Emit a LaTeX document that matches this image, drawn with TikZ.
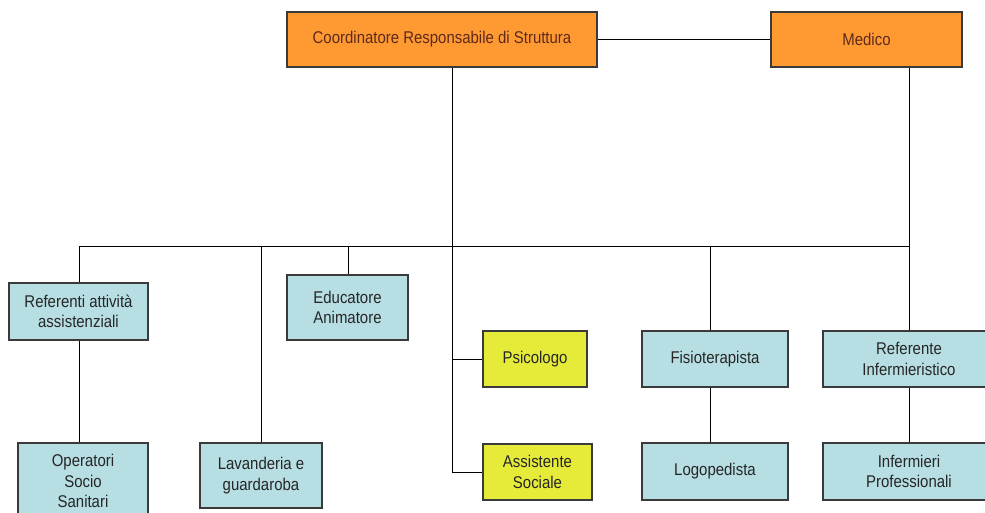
\documentclass[tikz,border=0pt]{standalone}
\usepackage{fontspec}
\setmainfont{Liberation Sans}[FakeStretch=0.88]
\definecolor{orangefill}{HTML}{FF9A33}
\definecolor{orangetext}{HTML}{5E2A1C}
\definecolor{bluefill}{HTML}{B7DEE3}
\definecolor{yellowfill}{HTML}{E6EB3A}
\definecolor{boxline}{HTML}{3A3A3A}
\begin{document}
\begin{tikzpicture}[x=1pt,y=-1pt,
  base/.style={draw=boxline,line width=1.1pt,align=center,inner sep=2pt,
    font=\fontsize{17}{20.5}\selectfont},
  topbox/.style={base,fill=orangefill,text=orangetext,minimum height=55pt},
  bluebox/.style={base,fill=bluefill,text=black!85},
  yellowbox/.style={base,fill=yellowfill,text=black!85},
  conn/.style={draw=black,line width=1pt}]
\useasboundingbox[fill=white] (0,0) rectangle (985,513);
% top level
\node[topbox,minimum width=310pt] (coord) at (442,39.5) {Coordinatore Responsabile di Struttura};
\node[topbox,minimum width=191pt] (med) at (866.5,39.5) {Medico};
% second level
\node[bluebox,minimum width=139pt,minimum height=57pt] (refa) at (78.5,311.5) {Referenti attività\\assistenziali};
\node[bluebox,minimum width=121pt,minimum height=65pt] (edu) at (347.5,307.5) {Educatore\\Animatore};
\node[yellowbox,minimum width=104pt,minimum height=56pt] (psi) at (535,359) {Psicologo};
\node[yellowbox,minimum width=109pt,minimum height=56pt] (ass) at (537.5,472) {Assistente\\Sociale};
\node[bluebox,minimum width=146pt,minimum height=56pt] (fis) at (715,359) {Fisioterapista};
\node[bluebox,minimum width=172pt,minimum height=56pt] (refi) at (909,359) {Referente\\Infermieristico};
% third level
\node[bluebox,minimum width=130pt,minimum height=76pt] (ope) at (83,481) {Operatori\\Socio\\Sanitari};
\node[bluebox,minimum width=122pt,minimum height=65pt] (lav) at (261,475.5) {Lavanderia e\\guardaroba};
\node[bluebox,minimum width=146pt,minimum height=57pt] (logo) at (715,471.5) {Logopedista};
\node[bluebox,minimum width=172pt,minimum height=57pt] (inf) at (909,471.5) {Infermieri\\Professionali};
% junctions
\coordinate (cv) at (452,0);
\coordinate (mv) at (909,0);
\coordinate (bl) at (79,246);
\coordinate (br) at (909,246);
\coordinate (jl) at (261,246);
\coordinate (je) at (348,246);
\coordinate (jf) at (710,246);
\coordinate (jp) at (452,359);
\coordinate (ja) at (452,472);
% connectors
\draw[conn] (coord.east) -- (med.west);
\draw[conn] (cv |- coord.south) -- (ja);
\draw[conn] (jp) -- (psi.west);
\draw[conn] (ja) -- (ass.west);
\draw[conn] (mv |- med.south) -- (refi.north);
\draw[conn] (bl) -- (br);
\draw[conn] (bl) -- (bl |- refa.north);
\draw[conn] (jl) -- (jl |- lav.north);
\draw[conn] (je) -- (je |- edu.north);
\draw[conn] (jf) -- (jf |- fis.north);
\draw[conn] (bl |- refa.south) -- (bl |- ope.north);
\draw[conn] (jf |- fis.south) -- (jf |- logo.north);
\draw[conn] (refi.south) -- (inf.north);
\end{tikzpicture}
\end{document}
